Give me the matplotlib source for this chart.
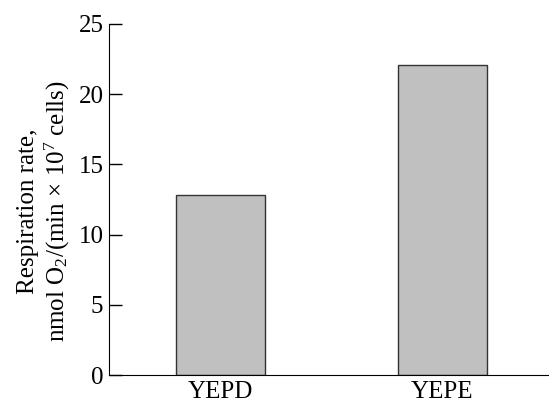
import matplotlib
matplotlib.use("Agg")
import matplotlib.pyplot as plt

plt.rcParams["font.family"] = ["Liberation Serif", "DejaVu Serif"]
plt.rcParams["mathtext.fontset"] = "custom"
plt.rcParams["mathtext.rm"] = "Liberation Serif"
plt.rcParams["mathtext.default"] = "regular"

# respiration rate per growth medium
media = ["YEPD", "YEPE"]
rates = [12.8, 22.1]
yticks = [0, 5, 10, 15, 20, 25]

fig = plt.figure(figsize=(5.49, 4.05), dpi=100)
ax = fig.add_axes([109 / 549, 1 - 375 / 405, 440 / 549, 351 / 405])

x = list(range(len(media)))
ax.bar(x, rates, width=0.40, color="#c0c0c0", edgecolor="#333333", linewidth=1.0)

ax.set_xlim(-0.502, 1.48)
ax.set_ylim(0, 25)
ax.set_yticks(yticks)
ax.set_xticks(x)
ax.set_xticklabels(media)

ax.spines["top"].set_visible(False)
ax.spines["right"].set_visible(False)
ax.tick_params(axis="y", direction="in", length=9, width=1, labelsize=18, pad=4)
ax.tick_params(axis="x", length=0, labelsize=18, pad=4.5)

ax.set_ylabel("Respiration rate,\nnmol O$_2$/(min × 10$^7$ cells)",
              fontsize=18, linespacing=1.15)
ax.yaxis.set_label_coords(-0.085, 0.467)

fig.savefig("out.png", dpi=100)
